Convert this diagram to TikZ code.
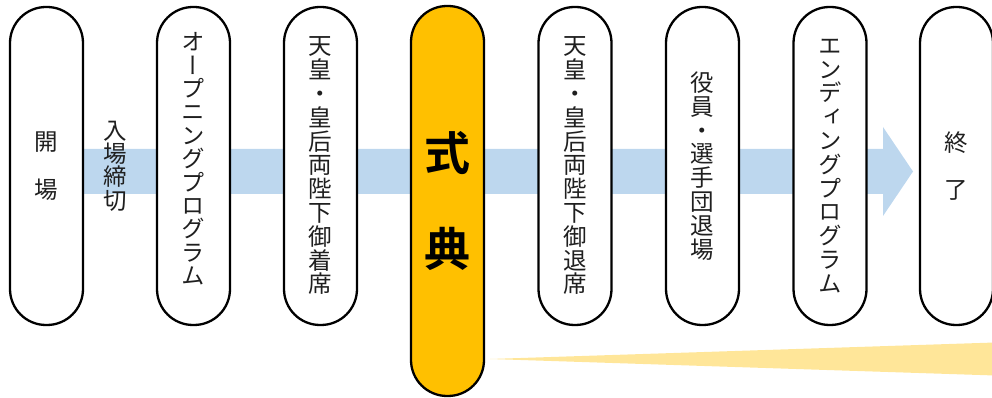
\documentclass[tikz,border=0pt]{standalone}
\usepackage{fontspec}
\newfontfamily\jpv[RawFeature=+vert]{Noto Sans CJK JP}
\newfontfamily\jpb{Noto Sans CJK JP Bold}
\definecolor{bandblue}{HTML}{BDD7EE}
\definecolor{wedgeyellow}{HTML}{FFE699}
\definecolor{mainorange}{HTML}{FFC000}
\begin{document}
\begin{tikzpicture}[x=1pt,y=1pt]
\tikzset{
  pill/.style={draw=black, line width=2.3pt, rounded corners=36pt,
    minimum width=73pt, minimum height=318pt, fill=white, align=center,
    inner sep=0pt, text=black!88, font=\jpv\fontsize{23.5}{23.8}\selectfont},
  mainpill/.style={pill, fill=mainorange, minimum height=390pt,
    font=\jpb\fontsize{46}{48}\selectfont, text=black},
  vlabel/.style={align=center, inner sep=0pt, text=black!88,
    font=\jpv\fontsize{23.5}{23.4}\selectfont}
}
\useasboundingbox (0,0) rectangle (992,398);
% background arrow and wedge
\coordinate (bandstart) at (46.5,226.5);
\coordinate (tip) at (913,226.5);
\fill[bandblue] (bandstart |- 0,249) -- (883,249) -- (883,271) -- (tip)
  -- (883,182) -- (883,204) -- (bandstart |- 0,204) -- cycle;
\coordinate (wedgetip) at (490,39);
\fill[wedgeyellow] (wedgetip) -- (995,55.5) -- (995,22.5) -- cycle;
% pills
\node[pill] (p1) at (46.5,232) {開\\　\\場};
\node[pill] (p2) at (193.5,232) {};
\node[vlabel] (p2text) at ([yshift=7pt]p2.center) {オ\\ー\\プ\\ニ\\ン\\グ\\プ\\ロ\\グ\\ラ\\ム};
\node[pill] (p3) at (320.5,232) {天\\皇\\・\\皇\\后\\両\\陛\\下\\御\\着\\席};
\node[mainpill] (p4) at (447.5,197) {式\\　\\典};
\node[pill] (p5) at (575,232) {天\\皇\\・\\皇\\后\\両\\陛\\下\\御\\退\\席};
\node[pill] (p6) at (702.5,232) {役\\員\\・\\選\\手\\団\\退\\場};
\node[pill] (p7) at (830,232) {エ\\ン\\デ\\ィ\\ン\\グ\\プ\\ロ\\グ\\ラ\\ム};
\node[pill] (p8) at (956.5,232) {終\\　\\了};
\node[vlabel] (cut) at (115,232) {入\\場\\締\\切};
\end{tikzpicture}
\end{document}
